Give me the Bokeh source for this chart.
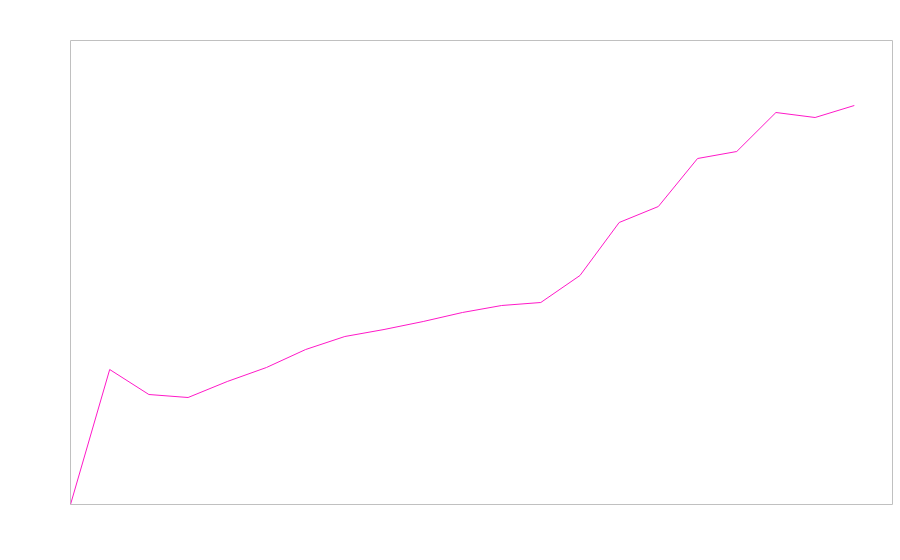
from bokeh.plotting import figure
from bokeh.models import Range1d
from bokeh.embed import file_html
from bokeh.resources import INLINE

x_vals = list(range(21))
y_vals = [0, 135, 110, 107, 123, 137, 155, 168, 175, 183, 192, 199, 202, 229, 282, 298, 346, 353, 392, 387, 399]

p = figure(width=893, height=544, output_backend="svg", toolbar_location=None,
           x_range=Range1d(0, 21), y_range=Range1d(0, 464),
           min_border_left=70, min_border_right=0, min_border_top=40, min_border_bottom=40)
p.axis.visible = False
p.grid.visible = False
p.outline_line_color = "#c0c0c0"
p.outline_line_width = 1
p.line(x_vals, y_vals, line_color="#ff19c8", line_width=1)

open("out.html", "w").write(file_html(p, INLINE))
